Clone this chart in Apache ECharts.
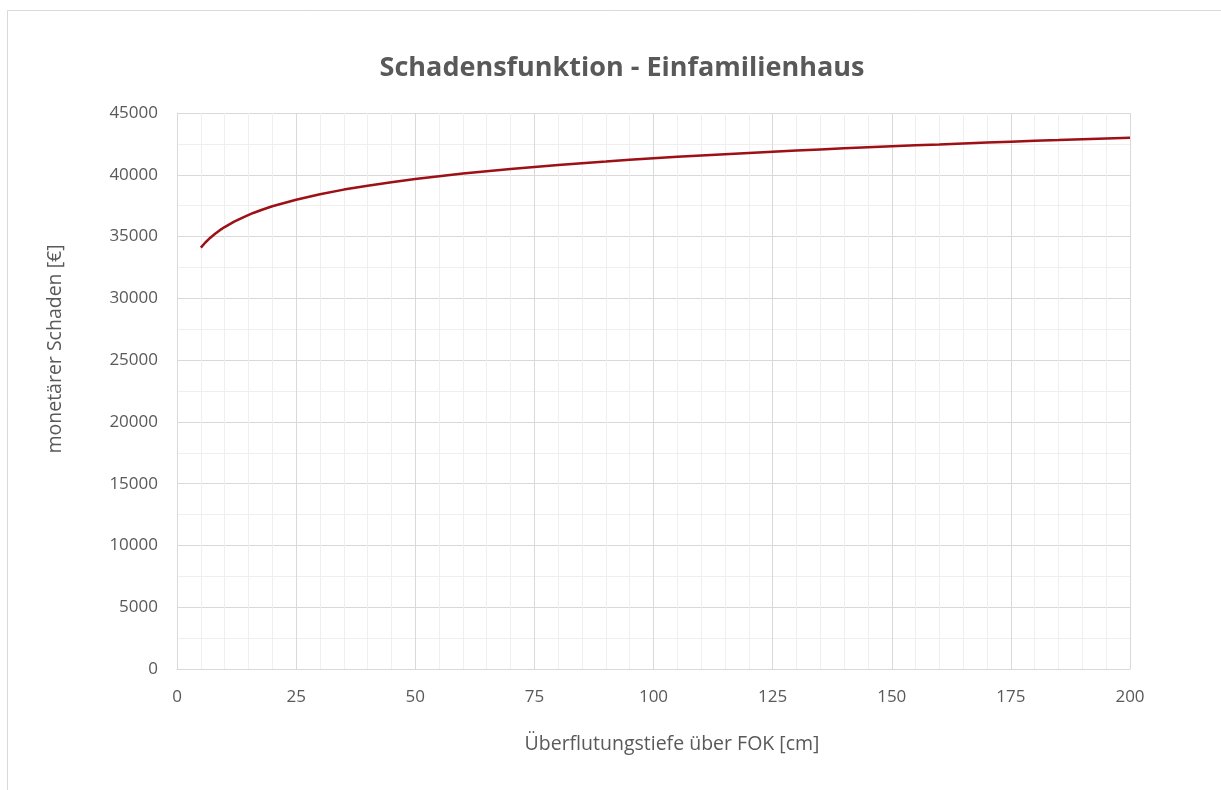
<!DOCTYPE html>
<html>
<head>
<meta charset="utf-8">
<script src="https://cdn.jsdelivr.net/npm/echarts@6/dist/echarts.min.js"></script>
<style>
  html, body { margin: 0; padding: 0; background: #ffffff; }
  #chart { width: 1221px; height: 790px; }
</style>
</head>
<body>
<div id="chart"></div>
<script>
// Überflutungstiefe über FOK [cm]
const depthCm = [5, 6, 7, 8, 9, 10, 12, 14, 16, 18, 20, 25, 30, 35, 40, 45, 50, 55, 60, 65,
  70, 75, 80, 85, 90, 95, 100, 105, 110, 115, 120, 125, 130, 135, 140, 145, 150, 155,
  160, 165, 170, 175, 180, 185, 190, 195, 200];
// monetärer Schaden [€]
const damageEur = [34100, 34540, 34910, 35230, 35520, 35770, 36210, 36580, 36910, 37190, 37450,
  37980, 38420, 38800, 39120, 39400, 39660, 39890, 40100, 40290, 40470, 40630, 40790, 40940,
  41070, 41210, 41330, 41450, 41560, 41670, 41770, 41870, 41960, 42050, 42140, 42230, 42310,
  42390, 42460, 42540, 42610, 42680, 42750, 42810, 42880, 42940, 43000];

const titleText = 'Schadensfunktion - Einfamilienhaus';
const xAxisTitle = 'Überflutungstiefe über FOK [cm]';
const yAxisTitle = 'monetärer Schaden [€]';

const font = '"Open Sans", "Noto Sans", sans-serif';
const textGray = '#595959';

const chart = echarts.init(document.getElementById('chart'), null, { renderer: 'canvas' });

chart.setOption({
  backgroundColor: '#ffffff',
  animation: false,
  title: {
    text: titleText,
    left: 617,
    top: 50,
    textAlign: 'center',
    textStyle: { fontFamily: font, fontSize: 27, fontWeight: 'bold', color: textGray }
  },
  grid: { left: 177, right: 91, top: 113, bottom: 121, containLabel: false },
  xAxis: {
    type: 'value',
    min: 0, max: 200, interval: 25,
    axisLine: { show: true, lineStyle: { color: '#d9d9d9', width: 1 } },
    axisTick: { show: false },
    axisLabel: {
      margin: 20, fontFamily: font, fontSize: 17, color: textGray,
      formatter: v => String(v)
    },
    splitLine: { show: true, lineStyle: { color: '#d9d9d9', width: 1 } },
    minorTick: { show: false, splitNumber: 5 },
    minorSplitLine: { show: true, lineStyle: { color: '#efefef', width: 1 } }
  },
  yAxis: {
    type: 'value',
    min: 0, max: 45000, interval: 5000,
    axisLine: { show: true, lineStyle: { color: '#d9d9d9', width: 1 } },
    axisTick: { show: false },
    axisLabel: {
      margin: 19, fontFamily: font, fontSize: 17, color: textGray,
      formatter: v => String(v)
    },
    splitLine: { show: true, lineStyle: { color: '#d9d9d9', width: 1 } },
    minorTick: { show: false, splitNumber: 2 },
    minorSplitLine: { show: true, lineStyle: { color: '#efefef', width: 1 } }
  },
  series: [{
    type: 'line',
    data: depthCm.map((x, i) => [x, damageEur[i]]),
    showSymbol: false,
    smooth: false,
    lineStyle: { color: '#9c1016', width: 2.5 }
  }],
  graphic: [
    {
      type: 'rect',
      silent: true,
      z: -1,
      shape: { x: 7.5, y: 10.5, width: 1400, height: 1000 },
      style: { fill: 'none', stroke: '#d9d9d9', lineWidth: 1 }
    },
    {
      type: 'text',
      x: 672, y: 744,
      style: {
        text: xAxisTitle, fontFamily: font, fontSize: 19.5, fill: textGray,
        align: 'center', verticalAlign: 'middle'
      }
    },
    {
      type: 'text',
      x: 55, y: 349,
      rotation: Math.PI / 2,
      style: {
        text: yAxisTitle, fontFamily: font, fontSize: 19.5, fill: textGray,
        align: 'center', verticalAlign: 'middle'
      }
    }
  ]
});
</script>
</body>
</html>
